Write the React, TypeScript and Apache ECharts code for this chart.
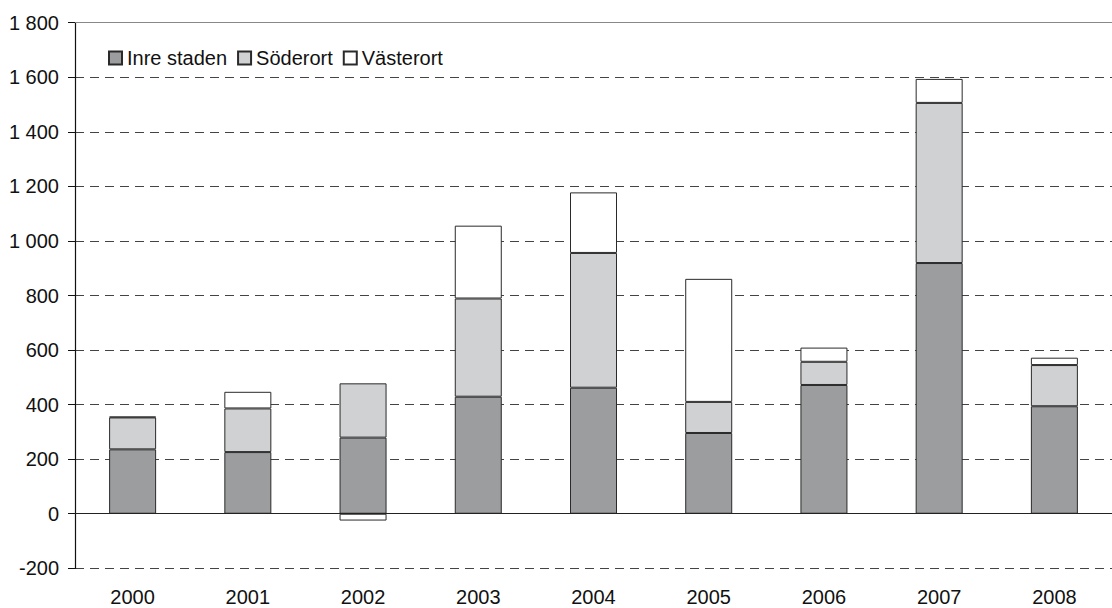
import React, { useEffect, useRef } from "react";
import * as echarts from "echarts";

const years = ["2000", "2001", "2002", "2003", "2004", "2005", "2006", "2007", "2008"];
const inreStaden = [236, 226, 279, 429, 462, 296, 472, 919, 394];
const soderort = [117, 160, 199, 360, 494, 114, 85, 587, 151];
const vasterort = [3, 61, -25, 267, 222, 451, 52, 88, 27];

const fmt = (v: number) => {
  const s = Math.abs(v).toString();
  const withSp = s.replace(/\B(?=(\d{3})+(?!\d))/g, " ");
  return (v < 0 ? "-" : "") + withSp;
};

export default function App() {
  const ref = useRef<HTMLDivElement>(null);
  useEffect(() => {
    document.body.style.margin = "0";
    const chart = echarts.init(ref.current!, null, { renderer: "svg" });
    const font = "Liberation Sans, Arial, sans-serif";
    const border = { borderColor: "#2a2a2a", borderWidth: 1 };
    chart.setOption({
      animation: false,
      backgroundColor: "#fff",
      textStyle: { fontFamily: font },
      grid: { left: 75, right: -10, top: 22.7, bottom: 39.7, containLabel: false },
      legend: {
        left: 103,
        top: 43,
        itemWidth: 13,
        itemHeight: 13,
        itemGap: 10,
        icon: "rect",
        textStyle: { fontFamily: font, fontSize: 20, color: "#111" },
        data: ["Inre staden", "Söderort", "Västerort"],
      },
      xAxis: {
        type: "category",
        data: years,
        axisLine: { show: false, onZero: false },
        axisTick: { show: false },
        axisLabel: { fontFamily: font, fontSize: 20, color: "#111", margin: 19 },
      },
      yAxis: {
        type: "value",
        min: -200,
        max: 1800,
        interval: 200,
        axisLine: { show: true, lineStyle: { color: "#111", width: 1.2 } },
        axisTick: { show: true, length: 7, lineStyle: { color: "#111" } },
        axisLabel: { fontFamily: font, fontSize: 20, color: "#111", margin: 16, formatter: fmt },
        splitLine: {
          show: true,
          lineStyle: { color: "#444", type: [9, 6], width: 1 },
        },
      },
      series: [
        {
          name: "Inre staden",
          type: "bar",
          stack: "a",
          barWidth: 47,
          data: inreStaden,
          itemStyle: { color: "#9c9d9f", ...border },
          markLine: {
            silent: true,
            symbol: "none",
            label: { show: false },
            data: [
              { yAxis: 0, lineStyle: { color: "#222", type: "solid", width: 1.2 } },
              { yAxis: 1800, lineStyle: { color: "#888", type: "solid", width: 1.2 } },
            ],
          },
        },
        {
          name: "Söderort",
          type: "bar",
          stack: "a",
          barWidth: 47,
          data: soderort,
          itemStyle: { color: "#d0d1d3", ...border },
        },
        {
          name: "Västerort",
          type: "bar",
          stack: "a",
          barWidth: 47,
          data: vasterort,
          itemStyle: { color: "#ffffff", ...border },
        },
      ],
    });
    return () => chart.dispose();
  }, []);
  return <div ref={ref} style={{ width: 1112, height: 608 }} />;
}
